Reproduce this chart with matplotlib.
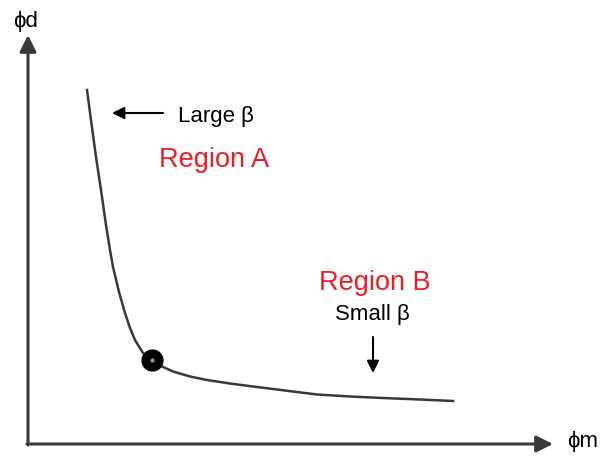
import matplotlib
matplotlib.use("Agg")
import matplotlib.pyplot as plt

plt.rcParams['font.family'] = ['Liberation Sans', 'DejaVu Sans']

# trade-off curve, phi_m vs phi_d (arbitrary units)
phi_m = [0.59, 0.63, 0.68, 0.73, 0.78, 0.82, 0.85, 0.91, 0.97, 1.02,
         1.07, 1.15, 1.24, 1.34, 1.45, 1.62, 1.79, 2.02, 2.25, 2.57,
         2.89, 3.22, 3.55, 3.92, 4.25]
phi_d = [3.54, 3.24, 2.87, 2.54, 2.19, 1.94, 1.77, 1.52, 1.31, 1.16,
         1.04, 0.91, 0.84, 0.775, 0.725, 0.675, 0.64, 0.605, 0.575, 0.535,
         0.495, 0.475, 0.46, 0.445, 0.43]

# corner point on the curve
corner_m, corner_d = 1.24, 0.84

fig = plt.figure(figsize=(6.02, 4.57), dpi=100)
ax = fig.add_axes([0, 0, 1, 1])
ax.set_xlim(-0.28, 5.74)
ax.set_ylim(-0.13, 4.44)
ax.axis('off')

axis_col = '#3a3a3a'
# axes with arrow heads
ax.annotate('', xy=(5.25, 0), xytext=(-0.01, 0),
            arrowprops=dict(arrowstyle='-|>', color=axis_col, lw=2.2,
                            mutation_scale=25, shrinkA=0, shrinkB=0))
ax.annotate('', xy=(0, 4.09), xytext=(0, -0.01),
            arrowprops=dict(arrowstyle='-|>', color=axis_col, lw=2.2,
                            mutation_scale=25, shrinkA=0, shrinkB=0))
ax.text(-0.02, 4.17, 'ϕd', fontsize=16, ha='center', va='baseline')
ax.text(5.55, -0.03, 'ϕm', fontsize=16, ha='center', va='baseline')

ax.plot(phi_m, phi_d, color='#383838', lw=1.8, solid_joinstyle='round')
ax.plot([corner_m], [corner_d], 'o', color='black', ms=15)
ax.plot([corner_m], [corner_d], 'o', color='#9a9a9a', ms=2)

# labels
ax.annotate('', xy=(0.84, 3.31), xytext=(1.35, 3.31),
            arrowprops=dict(arrowstyle='-|>', color='black', lw=1.5,
                            mutation_scale=18, shrinkA=0, shrinkB=0))
ax.text(1.88, 3.22, 'Large β', fontsize=16, ha='center', va='baseline')
ax.text(1.865, 2.77, 'Region A', fontsize=19.5, color='#ee1c25',
        ha='center', va='baseline')
ax.text(3.47, 1.54, 'Region B', fontsize=19.5, color='#ee1c25',
        ha='center', va='baseline')
ax.text(3.44, 1.24, 'Small β', fontsize=16, ha='center', va='baseline')
ax.annotate('', xy=(3.45, 0.71), xytext=(3.45, 1.07),
            arrowprops=dict(arrowstyle='-|>', color='black', lw=1.5,
                            mutation_scale=18, shrinkA=0, shrinkB=0))

plt.savefig('out.png', dpi=100)
